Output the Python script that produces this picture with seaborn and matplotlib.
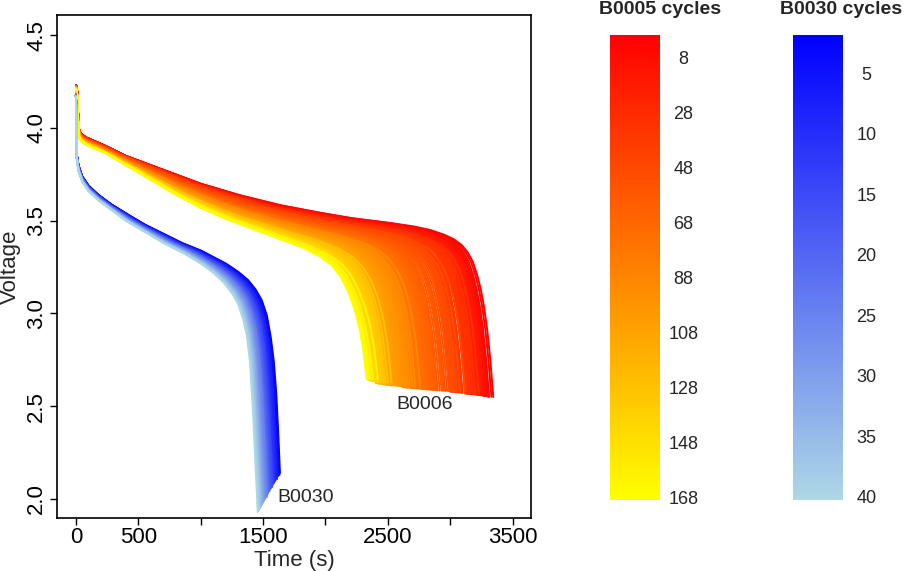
import numpy as np
import pandas as pd
import seaborn as sns
import matplotlib
matplotlib.use('Agg')
import matplotlib.pyplot as plt
from matplotlib.colors import LinearSegmentedColormap, Normalize
from matplotlib.cm import ScalarMappable

sns.set_theme(style='white')
plt.rcParams['font.family'] = ['Liberation Sans', 'DejaVu Sans']

# B0005: first and last discharge curve (time s, voltage V)
b5_first_t = [0, 8, 15, 25, 40, 80, 150, 250, 400, 600, 800, 1000, 1300, 1630, 1900,
              2200, 2500, 2700, 2840, 2950, 3030, 3090, 3140, 3180, 3215, 3245, 3270,
              3295, 3320, 3345]
b5_first_v = [4.23, 4.22, 4.10, 3.99, 3.97, 3.95, 3.93, 3.90, 3.85, 3.80, 3.75, 3.70, 3.64,
              3.585, 3.55, 3.515, 3.49, 3.47, 3.45, 3.425, 3.40, 3.37, 3.33, 3.28, 3.21,
              3.13, 3.04, 2.92, 2.76, 2.55]
b5_last_t = [0, 8, 15, 25, 40, 80, 150, 250, 400, 600, 800, 1000, 1200, 1400, 1600, 1800,
             1950, 2050, 2120, 2180, 2230, 2270, 2300, 2330]
b5_last_v = [4.21, 4.20, 4.06, 3.95, 3.93, 3.91, 3.89, 3.86, 3.80, 3.72, 3.64, 3.57, 3.51,
             3.46, 3.41, 3.36, 3.31, 3.26, 3.20, 3.12, 3.03, 2.93, 2.82, 2.65]

# discharge duration (s) of each B0005 cycle, 1..168
b5_duration = [
    3345, 3330, 3310, 3310, 3305, 3300, 3300, 3290, 3285, 3280,
    3275, 3270, 3265, 3260, 3250, 3245, 3240, 3230, 3225, 3215,
    3210, 3200, 3190, 3180, 3170, 3160, 3150, 3140, 3130, 3120,
    3230, 3200, 3180, 3160, 3140, 3120, 3100, 3090, 3080, 3070,
    3060, 3050, 3040, 3030, 3020, 3010, 3000, 3120, 3080, 3050,
    3030, 3010, 2990, 2975, 2960, 2950, 2940, 2930, 2915, 2900,
    2890, 2880, 2870, 2860, 2850, 2840, 2830, 2820, 2810, 2800,
    2790, 2780, 2770, 2760, 2750, 2740, 2730, 2720, 2710, 2700,
    2690, 2680, 2670, 2660, 2650, 2640, 2630, 2620, 2760, 2720,
    2700, 2680, 2665, 2650, 2640, 2630, 2620, 2610, 2600, 2590,
    2580, 2570, 2560, 2550, 2540, 2530, 2520, 2510, 2500, 2495,
    2490, 2485, 2480, 2470, 2465, 2460, 2455, 2450, 2440, 2435,
    2430, 2425, 2420, 2415, 2410, 2405, 2530, 2500, 2480, 2470,
    2460, 2450, 2440, 2430, 2425, 2420, 2415, 2410, 2405, 2400,
    2395, 2390, 2385, 2380, 2375, 2370, 2368, 2365, 2362, 2360,
    2358, 2355, 2352, 2350, 2348, 2345, 2343, 2340, 2338, 2336,
    2420, 2380, 2360, 2350, 2345, 2340, 2335, 2330,
]

# B0030: first and last discharge curve
b30_first_t = [0, 3, 6, 20, 50, 100, 180, 280, 400, 550, 700, 850, 1000, 1100, 1200, 1300,
               1380, 1440, 1490, 1530, 1560, 1585, 1605, 1620, 1635]
b30_first_v = [4.18, 4.10, 3.86, 3.80, 3.74, 3.69, 3.64, 3.59, 3.54, 3.48, 3.43, 3.38, 3.34,
               3.305, 3.27, 3.225, 3.18, 3.13, 3.07, 2.99, 2.88, 2.75, 2.58, 2.38, 2.14]
b30_last_t = [0, 3, 6, 20, 50, 100, 180, 280, 400, 550, 700, 850, 1000, 1100, 1180, 1250,
              1300, 1340, 1370, 1395, 1415, 1435, 1457]
b30_last_v = [4.17, 4.08, 3.84, 3.77, 3.71, 3.66, 3.61, 3.56, 3.50, 3.44, 3.38, 3.33, 3.27,
              3.22, 3.17, 3.11, 3.05, 2.97, 2.88, 2.74, 2.52, 2.25, 1.93]

# discharge duration (s) of each B0030 cycle, 1..40
b30_duration = [
    1635, 1628, 1631, 1620, 1614, 1609, 1612, 1601, 1596, 1590,
    1588, 1580, 1576, 1571, 1573, 1563, 1558, 1553, 1550, 1544,
    1540, 1536, 1532, 1527, 1530, 1519, 1514, 1510, 1506, 1500,
    1497, 1493, 1488, 1484, 1480, 1476, 1471, 1468, 1462, 1457,
]

x_ticks = [0, 500, 1000, 1500, 2000, 2500, 3000, 3500]
x_labels = ['0', '500', '', '1500', '', '2500', '', '3500']
y_ticks = [2.0, 2.5, 3.0, 3.5, 4.0, 4.5]
b5_ticks = [8, 28, 48, 68, 88, 108, 128, 148, 168]
b30_ticks = [5, 10, 15, 20, 25, 30, 35, 40]


def build_curves(t_first, v_first, t_last, v_last, durations):
    # each cycle: blend of first and last curve on a normalised time axis
    s_first = np.array(t_first) / t_first[-1]
    s_last = np.array(t_last) / t_last[-1]
    s = np.unique(np.concatenate([s_first, s_last, np.linspace(0, 1, 400)]))
    n = len(durations)
    parts = []
    for i, dur in enumerate(durations):
        w = i / (n - 1)
        v = (1 - w) * np.interp(s, s_first, v_first) + w * np.interp(s, s_last, v_last)
        parts.append(pd.DataFrame({'time': s * dur, 'voltage': v, 'cycle': i + 1}))
    return pd.concat(parts, ignore_index=True)


df5 = build_curves(b5_first_t, b5_first_v, b5_last_t, b5_last_v, b5_duration)
df30 = build_curves(b30_first_t, b30_first_v, b30_last_t, b30_last_v, b30_duration)

cmap5 = LinearSegmentedColormap.from_list('b5', ['#FF0000', '#FFFF00'])
cmap30 = LinearSegmentedColormap.from_list('b30', ['#0000FF', '#ADD8E6'])
norm5 = Normalize(0, 169)
norm30 = Normalize(1.86, 40.25)

fig = plt.figure(figsize=(9.13, 5.71), dpi=100)
ax = fig.add_axes([0.0624, 0.0933, 0.519, 0.8804])

sns.lineplot(data=df5, x='time', y='voltage', hue='cycle', palette=cmap5, hue_norm=norm5,
             estimator=None, sort=False, legend=False, lw=1.4, ax=ax)
sns.lineplot(data=df30, x='time', y='voltage', hue='cycle', palette=cmap30, hue_norm=norm30,
             estimator=None, sort=False, legend=False, lw=1.4, ax=ax)

ax.set_xlim(-152, 3646)
ax.set_ylim(1.899, 4.609)
ax.set_xticks(x_ticks, x_labels)
ax.set_yticks(y_ticks, [f'{y:.1f}' for y in y_ticks], rotation=90, va='center')
ax.tick_params(bottom=True, left=True, direction='out', length=5, width=1,
               labelsize=16, colors='black', pad=2)
for sp in ax.spines.values():
    sp.set_color('black')
    sp.set_linewidth(1.2)
ax.set_xlabel('Time (s)', fontsize=16, labelpad=1)
ax.set_ylabel('Voltage', fontsize=16, labelpad=4)

ax.text(2797, 2.51, 'B0006', ha='center', va='center', fontsize=14)
ax.text(1838, 2.01, 'B0030', ha='center', va='center', fontsize=14)

# colour bars
for x0, cmap, norm, ticks, title, tx in [
        (610, cmap5, norm5, b5_ticks, 'B0005 cycles', 660),
        (793, cmap30, norm30, b30_ticks, 'B0030 cycles', 841)]:
    cax = fig.add_axes([x0 / 913, 1 - 500 / 571, 50 / 913, 465 / 571])
    cb = fig.colorbar(ScalarMappable(norm=norm, cmap=cmap), cax=cax)
    cb.outline.set_visible(False)
    cax.invert_yaxis()
    cb.set_ticks(ticks)
    cax.tick_params(length=0, labelsize=13, pad=17)
    for lab in cax.get_yticklabels():
        lab.set_horizontalalignment('center')
    fig.text(tx / 913, 1 - 10 / 571, title, ha='center', va='center',
             fontsize=14, fontweight='bold')

fig.savefig('out.png', dpi=100)
